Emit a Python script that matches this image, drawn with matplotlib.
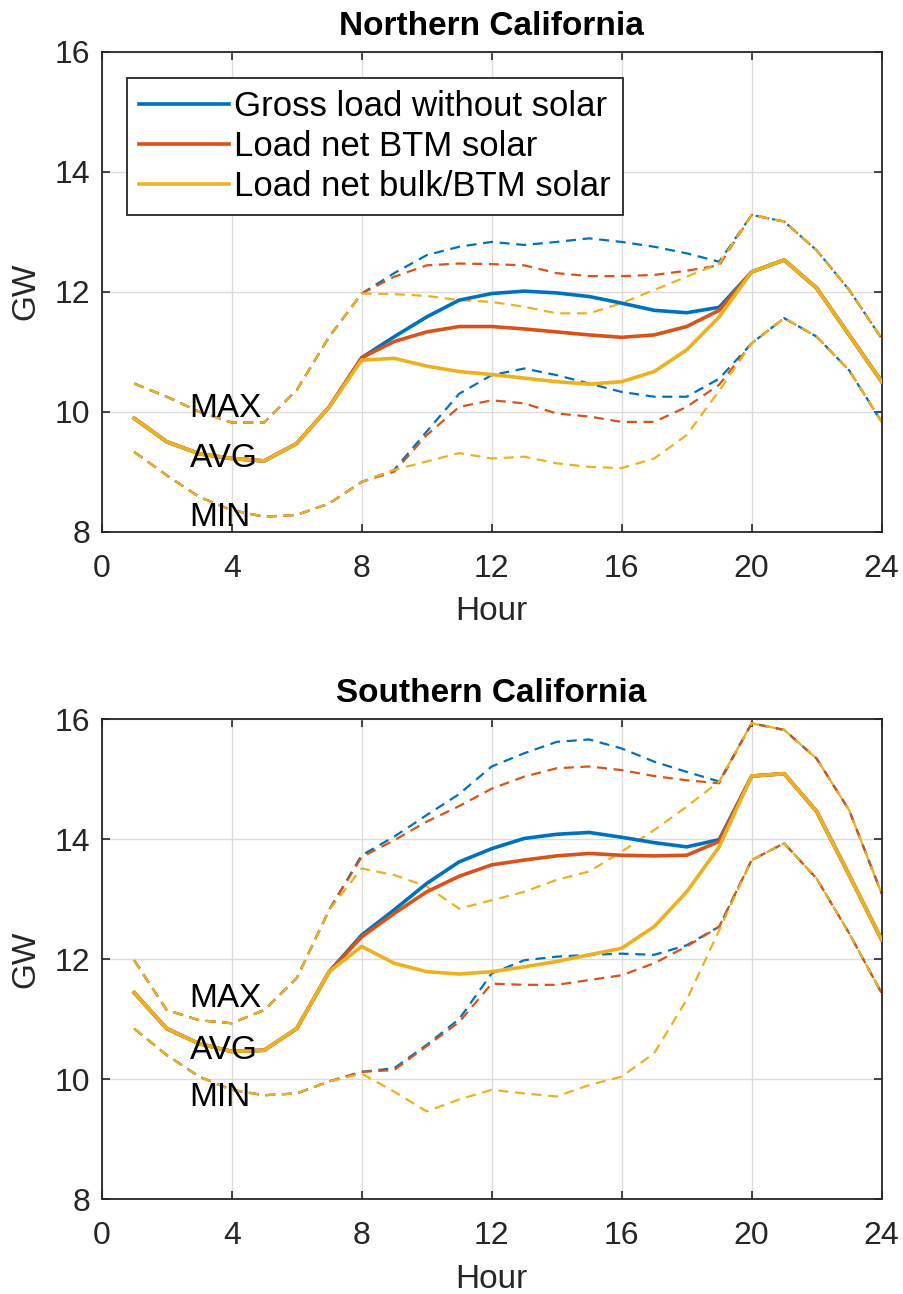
import matplotlib
matplotlib.use("Agg")
import matplotlib.pyplot as plt
import numpy as np

plt.rcParams['font.family'] = ['Liberation Sans', 'DejaVu Sans']

hours = list(range(1, 25))
x_ticks = [0, 4, 8, 12, 16, 20, 24]
y_ticks = [8, 10, 12, 14, 16]
series_labels = ["Gross load without solar", "Load net BTM solar", "Load net bulk/BTM solar"]
titles = ["Northern California", "Southern California"]

# ---- Northern California ----
n_gross_avg = [9.89, 9.50, 9.30, 9.22, 9.18, 9.47, 10.08, 10.90, 11.25, 11.58, 11.86, 11.97,
               12.01, 11.98, 11.92, 11.81, 11.69, 11.65, 11.74, 12.33, 12.53, 12.06, 11.28, 10.50]
n_btm_avg = [9.89, 9.50, 9.30, 9.22, 9.18, 9.47, 10.08, 10.90, 11.17, 11.33, 11.42, 11.42,
             11.38, 11.33, 11.28, 11.24, 11.28, 11.42, 11.69, 12.33, 12.53, 12.06, 11.28, 10.50]
n_bulk_avg = [9.89, 9.50, 9.30, 9.22, 9.18, 9.47, 10.08, 10.86, 10.89, 10.76, 10.67, 10.62,
              10.56, 10.50, 10.46, 10.50, 10.67, 11.03, 11.58, 12.33, 12.53, 12.06, 11.28, 10.50]

n_gross_max = [10.47, 10.25, 10.00, 9.82, 9.82, 10.36, 11.25, 11.97, 12.31, 12.61, 12.75, 12.83,
               12.78, 12.83, 12.89, 12.83, 12.75, 12.64, 12.50, 13.28, 13.17, 12.69, 12.03, 11.22]
n_btm_max = [10.47, 10.25, 10.00, 9.82, 9.82, 10.36, 11.25, 11.97, 12.25, 12.44, 12.47, 12.46,
             12.44, 12.31, 12.26, 12.26, 12.28, 12.35, 12.44, 13.28, 13.17, 12.69, 12.03, 11.22]
n_bulk_max = [10.47, 10.25, 10.00, 9.82, 9.82, 10.36, 11.25, 11.97, 11.96, 11.93, 11.86, 11.83,
              11.75, 11.64, 11.64, 11.81, 12.03, 12.25, 12.47, 13.28, 13.17, 12.69, 12.03, 11.22]

n_gross_min = [9.33, 8.94, 8.58, 8.36, 8.25, 8.28, 8.47, 8.83, 9.03, 9.67, 10.30, 10.61,
               10.72, 10.61, 10.47, 10.33, 10.25, 10.25, 10.55, 11.14, 11.56, 11.25, 10.69, 9.83]
n_btm_min = [9.33, 8.94, 8.58, 8.36, 8.25, 8.28, 8.47, 8.83, 9.00, 9.61, 10.08, 10.19,
             10.14, 9.97, 9.92, 9.83, 9.83, 10.08, 10.45, 11.14, 11.56, 11.25, 10.69, 9.83]
n_bulk_min = [9.33, 8.94, 8.58, 8.36, 8.25, 8.28, 8.47, 8.83, 9.03, 9.17, 9.31, 9.22,
              9.25, 9.14, 9.08, 9.06, 9.22, 9.61, 10.35, 11.14, 11.56, 11.25, 10.69, 9.83]

# ---- Southern California ----
s_gross_avg = [11.44, 10.84, 10.59, 10.46, 10.48, 10.84, 11.79, 12.40, 12.82, 13.26, 13.62, 13.84,
               14.01, 14.08, 14.11, 14.03, 13.94, 13.87, 13.99, 15.05, 15.09, 14.46, 13.40, 12.32]
s_btm_avg = [11.44, 10.84, 10.59, 10.46, 10.48, 10.84, 11.79, 12.37, 12.76, 13.12, 13.38, 13.57,
             13.65, 13.72, 13.76, 13.73, 13.72, 13.73, 13.96, 15.05, 15.09, 14.46, 13.40, 12.32]
s_bulk_avg = [11.44, 10.84, 10.59, 10.46, 10.48, 10.84, 11.79, 12.21, 11.93, 11.79, 11.75, 11.79,
              11.87, 11.96, 12.07, 12.18, 12.54, 13.12, 13.87, 15.05, 15.09, 14.46, 13.40, 12.32]

s_gross_max = [11.98, 11.15, 10.98, 10.93, 11.15, 11.68, 12.82, 13.73, 14.04, 14.40, 14.75, 15.21,
               15.43, 15.62, 15.66, 15.51, 15.29, 15.12, 14.96, 15.93, 15.82, 15.34, 14.48, 13.09]
s_btm_max = [11.98, 11.15, 10.98, 10.93, 11.15, 11.68, 12.82, 13.70, 13.98, 14.29, 14.55, 14.84,
             15.04, 15.18, 15.21, 15.15, 15.05, 14.98, 14.93, 15.93, 15.82, 15.34, 14.48, 13.09]
s_bulk_max = [11.98, 11.15, 10.98, 10.93, 11.15, 11.68, 12.82, 13.51, 13.40, 13.21, 12.84, 12.98,
              13.12, 13.32, 13.46, 13.79, 14.15, 14.54, 14.96, 15.93, 15.82, 15.34, 14.48, 13.09]

s_gross_min = [10.84, 10.40, 10.04, 9.82, 9.73, 9.76, 9.96, 10.12, 10.18, 10.57, 11.00, 11.76,
               11.98, 12.04, 12.07, 12.09, 12.07, 12.23, 12.54, 13.65, 13.93, 13.34, 12.43, 11.43]
s_btm_min = [10.84, 10.40, 10.04, 9.82, 9.73, 9.76, 9.96, 10.12, 10.15, 10.55, 10.95, 11.59,
             11.57, 11.57, 11.65, 11.73, 11.93, 12.21, 12.54, 13.65, 13.93, 13.34, 12.43, 11.43]
s_bulk_min = [10.84, 10.40, 10.04, 9.82, 9.73, 9.76, 9.96, 10.09, 9.79, 9.46, 9.66, 9.82,
              9.76, 9.71, 9.90, 10.04, 10.43, 11.32, 12.48, 13.65, 13.93, 13.34, 12.43, 11.43]

# annotation positions (data coords)
n_text_pos = {"MAX": (2.7, 10.06), "AVG": (2.7, 9.22), "MIN": (2.7, 8.24)}
s_text_pos = {"MAX": (2.7, 11.35), "AVG": (2.7, 10.48), "MIN": (2.7, 9.70)}

colors = ["#0072BD", "#D95319", "#EDB120"]

fig = plt.figure(figsize=(9.04, 12.94), dpi=100)
ax1 = fig.add_axes([0.1125, 0.5891, 0.8628, 0.3709])
ax2 = fig.add_axes([0.1125, 0.0734, 0.8628, 0.3709])

regions = [
    (ax1, [n_gross_avg, n_btm_avg, n_bulk_avg], [n_gross_max, n_btm_max, n_bulk_max],
     [n_gross_min, n_btm_min, n_bulk_min], n_text_pos, titles[0]),
    (ax2, [s_gross_avg, s_btm_avg, s_bulk_avg], [s_gross_max, s_btm_max, s_bulk_max],
     [s_gross_min, s_btm_min, s_bulk_min], s_text_pos, titles[1]),
]

TICK_FS = 23
LAB_FS = 24
TEXT_FS = 24
LEG_FS = 25
TXT_COLOR = '#262626'
for i, (ax, avgs, maxs, mins, tpos, title) in enumerate(regions):
    handles = []
    for c, avg, mx, mn in zip(colors, avgs, maxs, mins):
        ax.plot(hours, mx, color=c, lw=1.6, dashes=(4.5, 3.0), zorder=2)
        ax.plot(hours, mn, color=c, lw=1.6, dashes=(4.5, 3.0), zorder=2)
    for c, avg, lab in zip(colors, avgs, series_labels):
        h, = ax.plot(hours, avg, color=c, lw=2.6, label=lab, zorder=3)
        handles.append(h)
    for k, (tx, ty) in tpos.items():
        ax.text(tx, ty, k, fontsize=TEXT_FS, ha='left', va='center', color='black', zorder=4)
    ax.set_xlim(0, 24)
    ax.set_ylim(8, 16)
    ax.set_xticks(x_ticks)
    ax.set_yticks(y_ticks)
    ax.grid(True, color='#dcdcdc', lw=1.0, zorder=0)
    ax.set_axisbelow(True)
    ax.tick_params(direction='in', length=6, width=1.2, labelsize=TICK_FS, top=True, right=True,
                   colors=TXT_COLOR, labelcolor=TXT_COLOR)
    ax.tick_params(axis='x', pad=16)
    ax.tick_params(axis='y', pad=8)
    for sp in ax.spines.values():
        sp.set_color(TXT_COLOR)
        sp.set_linewidth(1.3)
    ax.set_xlabel("Hour", fontsize=LAB_FS, color=TXT_COLOR, labelpad=9)
    ax.set_ylabel("GW", fontsize=LAB_FS, color=TXT_COLOR, labelpad=10)
    ax.set_title(title, fontsize=LAB_FS, fontweight='bold', pad=12)
    if i == 0:
        leg = ax.legend(handles=handles, loc='upper left', bbox_to_anchor=(0.032, 0.945),
                        fontsize=LEG_FS, frameon=True, fancybox=False, edgecolor=TXT_COLOR,
                        framealpha=1, handlelength=2.6, handletextpad=0.15, borderpad=0.35,
                        labelspacing=0.2, borderaxespad=0)
        leg.get_frame().set_linewidth(1.3)

fig.savefig("out.png", dpi=100)
